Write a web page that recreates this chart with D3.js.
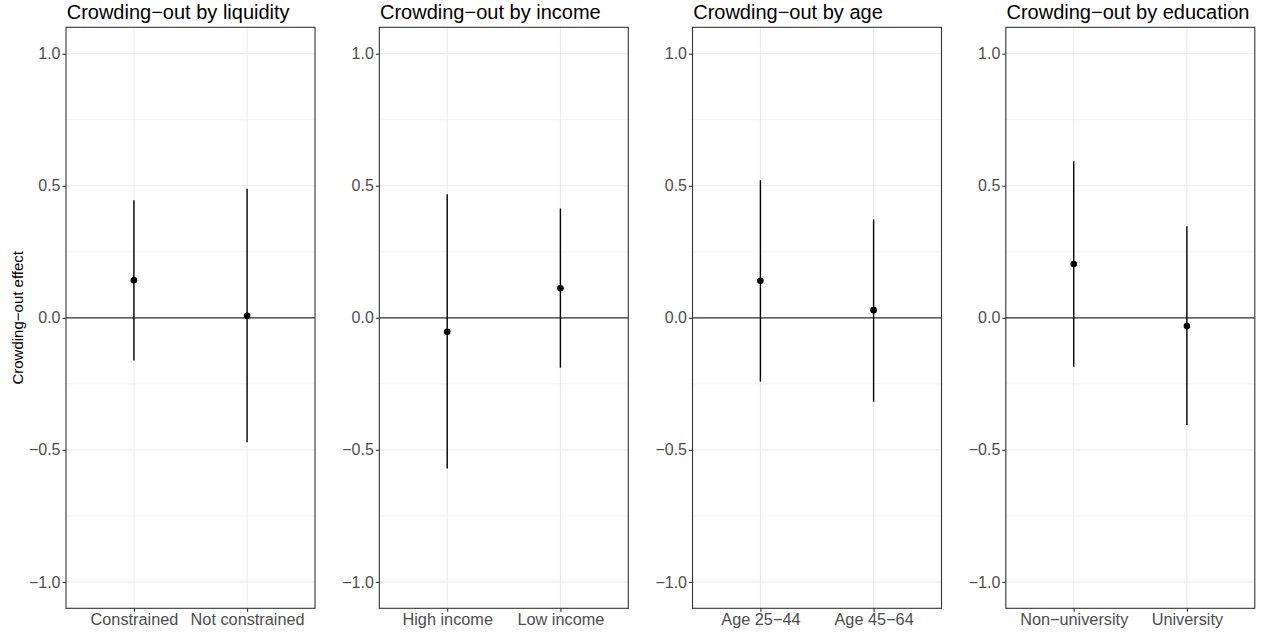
<!DOCTYPE html>
<html>
<head>
<meta charset="utf-8">
<script src="https://cdn.jsdelivr.net/npm/d3@7/dist/d3.min.js"></script>
<style>
  html, body { margin: 0; padding: 0; background: #fff; }
  svg { display: block; font-family: "Liberation Sans", Arial, sans-serif; }
</style>
</head>
<body>
<svg id="chart" width="1267" height="635"></svg>
<script>
// Panel titles and the two subgroups shown in each panel
const panelTitles = [
  "Crowding\u2212out by liquidity",
  "Crowding\u2212out by income",
  "Crowding\u2212out by age",
  "Crowding\u2212out by education"
];
const panelCategories = [
  ["Constrained", "Not constrained"],
  ["High income", "Low income"],
  ["Age 25\u221244", "Age 45\u221264"],
  ["Non\u2212university", "University"]
];
// Point estimates and confidence bounds, one pair per panel
const estimates = [
  [0.142, 0.008],
  [-0.053, 0.112],
  [0.140, 0.029],
  [0.204, -0.031]
];
const lowerBounds = [
  [-0.162, -0.471],
  [-0.571, -0.189],
  [-0.242, -0.318],
  [-0.185, -0.406]
];
const upperBounds = [
  [0.445, 0.489],
  [0.468, 0.414],
  [0.521, 0.373],
  [0.593, 0.347]
];
const yTicks = [-1.0, -0.5, 0.0, 0.5, 1.0];
const yMinorTicks = [-0.75, -0.25, 0.25, 0.75];
const yTitle = "Crowding\u2212out effect";

const svg = d3.select("#chart");
const panelLefts = [66, 379.3, 692.5, 1005.8];
const panelWidth = 249;
const plotTop = 27.3, plotBottom = 608.3;

const y = d3.scaleLinear().domain([-1.1, 1.1]).range([plotBottom, plotTop]);
const fmt = d3.format(".1f");

// Shared y-axis title
svg.append("text")
  .attr("transform", `translate(22.5,${(plotTop + plotBottom) / 2}) rotate(-90)`)
  .attr("text-anchor", "middle")
  .attr("font-size", 15)
  .attr("fill", "#000")
  .text(yTitle);

panelTitles.forEach((title, i) => {
  const g = svg.append("g").attr("transform", `translate(${panelLefts[i]},0)`);
  const x = d3.scalePoint().domain(panelCategories[i]).range([0, panelWidth]).padding(0.6);

  // minor gridlines
  g.selectAll("line.minor").data(yMinorTicks).join("line")
    .attr("x1", 0).attr("x2", panelWidth)
    .attr("y1", d => y(d)).attr("y2", d => y(d))
    .attr("stroke", "#ebebeb").attr("stroke-width", 0.6);
  // major gridlines
  g.selectAll("line.majory").data(yTicks).join("line")
    .attr("x1", 0).attr("x2", panelWidth)
    .attr("y1", d => y(d)).attr("y2", d => y(d))
    .attr("stroke", "#ebebeb").attr("stroke-width", 1.1);
  g.selectAll("line.majorx").data(panelCategories[i]).join("line")
    .attr("x1", d => x(d)).attr("x2", d => x(d))
    .attr("y1", plotTop).attr("y2", plotBottom)
    .attr("stroke", "#ebebeb").attr("stroke-width", 1.1);

  // reference line at zero
  g.append("line")
    .attr("x1", 0).attr("x2", panelWidth)
    .attr("y1", y(0)).attr("y2", y(0))
    .attr("stroke", "#333").attr("stroke-width", 1.2);

  // confidence intervals
  const rows = panelCategories[i].map((c, j) => ({
    cat: c, est: estimates[i][j], lo: lowerBounds[i][j], hi: upperBounds[i][j]
  }));
  g.selectAll("line.ci").data(rows).join("line")
    .attr("x1", d => x(d.cat)).attr("x2", d => x(d.cat))
    .attr("y1", d => y(d.lo)).attr("y2", d => y(d.hi))
    .attr("stroke", "#000").attr("stroke-width", 1.4);
  g.selectAll("circle.pt").data(rows).join("circle")
    .attr("cx", d => x(d.cat)).attr("cy", d => y(d.est))
    .attr("r", 3.3).attr("fill", "#000");

  // panel border
  g.append("rect")
    .attr("x", 0).attr("y", plotTop).attr("width", panelWidth).attr("height", plotBottom - plotTop)
    .attr("fill", "none").attr("stroke", "#333").attr("stroke-width", 1.1);

  // y axis
  const yAxis = g.append("g").call(d3.axisLeft(y).tickValues(yTicks).tickFormat(fmt).tickSize(3.5).tickPadding(2));
  yAxis.select(".domain").remove();
  yAxis.selectAll(".tick line").attr("stroke", "#333").attr("stroke-width", 1.1);
  yAxis.selectAll(".tick text").attr("fill", "#4d4d4d").attr("font-size", 16)
    .attr("font-family", "Liberation Sans, Arial, sans-serif");

  // x axis
  const xAxis = g.append("g").attr("transform", `translate(0,${plotBottom})`)
    .call(d3.axisBottom(x).tickSize(3.5).tickPadding(2));
  xAxis.select(".domain").remove();
  xAxis.selectAll(".tick line").attr("stroke", "#333").attr("stroke-width", 1.1);
  xAxis.selectAll(".tick text").attr("fill", "#4d4d4d").attr("font-size", 16.3)
    .attr("font-family", "Liberation Sans, Arial, sans-serif");

  // panel title
  g.append("text")
    .attr("x", 0.7).attr("y", 18.5)
    .attr("font-size", 20).attr("fill", "#000")
    .text(title);
});
</script>
</body>
</html>
